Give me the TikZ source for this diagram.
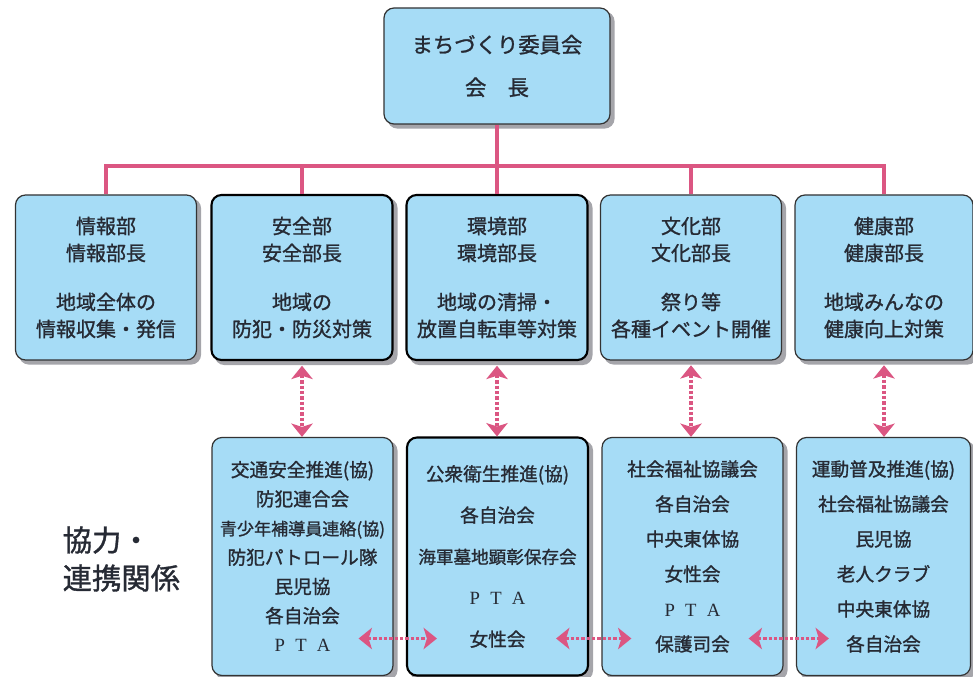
\documentclass[tikz,border=0pt]{standalone}
\usepackage{fontspec}
\setmainfont{Noto Sans CJK JP}[FakeBold=1.2]
\newfontfamily\ptafont{Liberation Serif}
\usetikzlibrary{arrows.meta}

\definecolor{boxblue}{RGB}{166,220,246}
\definecolor{linkpink}{RGB}{219,86,130}
\definecolor{inkgray}{RGB}{38,42,52}
\definecolor{shadowgray}{RGB}{165,165,170}

\pgfdeclarelayer{background}
\pgfsetlayers{background,main}

\newcommand{\ptaline}{{\ptafont P\hspace{0.55em}T\hspace{0.55em}A}}

\tikzset{
  orgbox/.style={draw=black!80, line width=0.9pt, rounded corners=7.5pt, fill=boxblue,
    text=inkgray, align=center, inner sep=0pt},
  heavybox/.style={orgbox, draw=black, line width=1.6pt},
  boxshadow/.style={fill=shadowgray, rounded corners=7.5pt},
  deptsize/.style={minimum width=135.75pt, minimum height=123.75pt, font=\fontsize{15}{20.25}\selectfont},
  grpsize/.style={minimum width=135.75pt, minimum height=178.5pt},
  busline/.style={draw=linkpink, line width=3.2pt},
  coop/.style={draw=linkpink, line width=2.8pt, dash pattern=on 2.5pt off 1.5pt,
    {Stealth[length=10pt,width=16pt,inset=2.5pt]}-{Stealth[length=10pt,width=16pt,inset=2.5pt]}}
}

\begin{document}
\begin{tikzpicture}[x=0.75pt,y=0.75pt,yscale=-1,xscale=1]
\useasboundingbox (0,0) rectangle (973,677);

% Top box
\node[orgbox, minimum width=169.5pt, minimum height=87pt, font=\fontsize{16}{32}\selectfont] (chair) at (497,66) {まちづくり委員会\\会　長};

% Departments
\node[orgbox, deptsize] (dept1) at (106,277.5) {情報部\\情報部長\\[16.5pt]地域全体の\\情報収集・発信};
\node[heavybox, deptsize] (dept2) at (302,277.5) {安全部\\安全部長\\[16.5pt]地域の\\防犯・防災対策};
\node[heavybox, deptsize] (dept3) at (497,277.5) {環境部\\環境部長\\[16.5pt]地域の清掃・\\放置自転車等対策};
\node[orgbox, deptsize] (dept4) at (691,277.5) {文化部\\文化部長\\[16.5pt]祭り等\\各種イベント開催};
\node[orgbox, deptsize, minimum width=133.5pt] (dept5) at (884,277.5) {健康部\\健康部長\\[16.5pt]地域みんなの\\健康向上対策};

% Cooperating groups
\node[orgbox, grpsize, font=\fontsize{14}{21.9}\selectfont] (grp1) at (302.5,556.5) {交通安全推進(協)\\防犯連合会\\{\fontsize{12.8}{21.9}\selectfont 青少年補導員連絡(協)}\\防犯パトロール隊\\民児協\\各自治会\\\ptaline};
\node[heavybox, grpsize, font=\fontsize{14}{31}\selectfont] (grp2) at (497.5,556.5) {公衆衛生推進(協)\\各自治会\\{\fontsize{13.2}{31}\selectfont 海軍墓地顕彰保存会}\\\ptaline\\女性会};
\node[orgbox, grpsize, font=\fontsize{14}{26.25}\selectfont] (grp3) at (692.5,556.5) {社会福祉協議会\\各自治会\\中央東体協\\女性会\\\ptaline\\保護司会};
\node[orgbox, grpsize, minimum width=130.5pt, font=\fontsize{14}{26.25}\selectfont] (grp4) at (883.5,556.5) {運動普及推進(協)\\社会福祉協議会\\民児協\\老人クラブ\\中央東体協\\各自治会};

% Shadows
\begin{pgfonlayer}{background}
\foreach \b in {chair,dept1,dept2,dept3,dept4,dept5,grp1,grp2,grp3,grp4}
  \fill[boxshadow] ([shift={(4,4)}]\b.north west) rectangle ([shift={(4,4)}]\b.south east);
\end{pgfonlayer}

% Text Node
\node[anchor=west, align=left, text=inkgray, font=\fontsize{22}{28.5}\selectfont] (coopnote) at (58,559) {協力・\\連携関係};

% Bus lines
\coordinate (bus) at (497,166);
\draw[busline] (dept1.north) |- (bus) -| (dept5.north);
\draw[busline] (chair.south) -- (dept3.north);
\draw[busline] (dept2.north |- bus) -- (dept2.north);
\draw[busline] (dept4.north |- bus) -- (dept4.north);

% Cooperation arrows
\draw[coop, shorten <=3.5pt] (dept2.south) -- (dept2.south |- grp1.north);
\draw[coop, shorten <=3.5pt] (dept3.south) -- (dept3.south |- grp2.north);
\draw[coop, shorten <=3.5pt] (dept4.south) -- (dept4.south |- grp3.north);
\draw[coop, shorten <=3.5pt] (dept5.south) -- (dept5.south |- grp4.north);
\draw[coop] ([shift={(-35,82)}]grp1.east) -- ([shift={(31,82)}]grp2.west);
\draw[coop] ([shift={(-33,82)}]grp2.east) -- ([shift={(30,82)}]grp3.west);
\draw[coop] ([shift={(-35,82)}]grp3.east) -- ([shift={(33,82)}]grp4.west);

\end{tikzpicture}
\end{document}
